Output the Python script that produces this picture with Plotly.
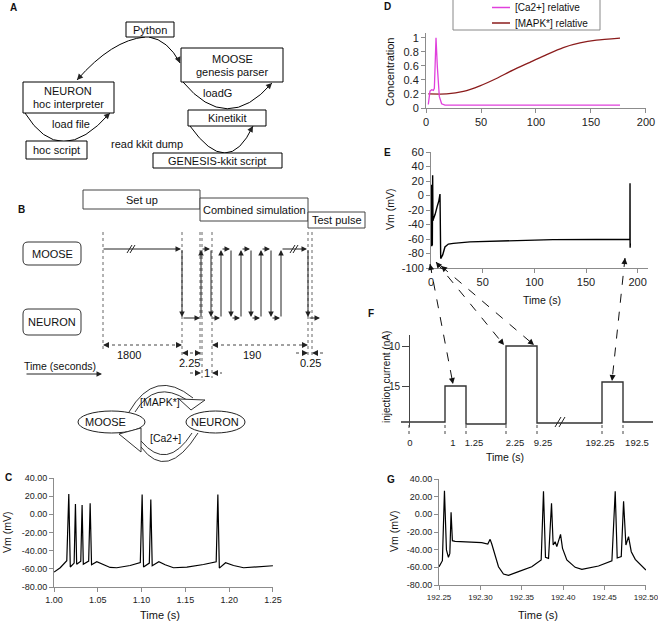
import plotly.graph_objects as go

W, H = 658, 622
FONT = "Liberation Sans, Arial, Helvetica, sans-serif"

# ---------------- data ----------------
# Panel C: Vm during first test pulse
c_time = [1.000, 1.007, 1.0145, 1.0168, 1.0185, 1.0229, 1.0244, 1.0258, 1.0305, 1.0320, 1.0334,
          1.0395, 1.0412, 1.0428, 1.0488, 1.0545, 1.0640, 1.0716, 1.0869, 1.0985, 1.1006, 1.1022,
          1.1088, 1.1105, 1.1121, 1.1197, 1.1269, 1.1364, 1.1517, 1.1707, 1.1852, 1.1871, 1.1888,
          1.1959, 1.2050, 1.2165, 1.2317, 1.2500]
c_vm = [-63.6, -58.8, -51.0, 22.4, -58.0, -53.7, 11.5, -55.0, -51.5, 10.4, -55.0,
        -51.5, 12.2, -55.5, -52.2, -54.4, -58.5, -58.8, -56.3, -53.0, 21.7, -58.0,
        -53.7, 16.2, -56.5, -52.2, -55.5, -58.8, -58.1, -55.2, -52.2, 21.7, -59.2,
        -53.3, -56.3, -58.8, -58.1, -56.6]
c_xticks = [1.00, 1.05, 1.10, 1.15, 1.20, 1.25]
vm_yticks = [-80, -60, -40, -20, 0, 20, 40]

# Panel G: Vm during final test pulse
g_time = [192.2500, 192.2540, 192.2565, 192.2589, 192.2613, 192.2630, 192.2645, 192.2661, 192.2694,
          192.2855, 192.3016, 192.3089, 192.3117, 192.3137, 192.3177, 192.3218, 192.3278, 192.3339,
          192.3460, 192.3620, 192.3734, 192.3762, 192.3786, 192.3823, 192.3859, 192.3879, 192.3903,
          192.3923, 192.3968, 192.3992, 192.4044, 192.4145, 192.4226, 192.4427, 192.4589, 192.4629,
          192.4653, 192.4702, 192.4730, 192.4758, 192.4790, 192.4823, 192.4871, 192.4952, 192.5000]
g_vm = [-59.3, -52.5, 26.8, -40.4, -48.7, -44.2, 2.3, -29.8, -30.6,
        -31.0, -32.1, -33.6, -28.3, -33.6, -47.9, -59.3, -67.6, -69.0,
        -64.9, -59.3, -51.7, 26.0, -48.7, -49.8, 12.4, -34.7, -31.0,
        -36.6, -22.6, -38.5, -51.7, -60.0, -62.3, -58.5, -52.5, 26.0,
        -49.4, -47.9, 14.7, -34.7, -25.3, -42.3, -51.0, -59.3, -63.0]
g_xticks = [192.25, 192.30, 192.35, 192.40, 192.45, 192.50]

# Panel D: relative concentrations
d_ca_time = [2.1, 3.6, 5.2, 6.7, 7.6, 9.1, 10.3, 12.1, 14.2, 17.3, 176.4]
d_ca_rel = [0.05, 0.24, 0.26, 0.25, 0.28, 1.00, 0.59, 0.165, 0.06, 0.04, 0.04]
d_mapk_time = [2.1, 18.8, 34.0, 49.0, 64.0, 79.0, 94.5, 109.7, 124.8, 140.0, 155.0, 176.4]
d_mapk_rel = [0.20, 0.20, 0.235, 0.315, 0.42, 0.54, 0.65, 0.76, 0.86, 0.925, 0.965, 0.995]
d_xticks = [0, 50, 100, 150, 200]
d_yticks = [0, 0.2, 0.4, 0.6, 0.8, 1]

# Panel E: Vm over the whole combined simulation
e_time = [0.3, 0.4, 0.5, 0.6, 0.7, 0.8, 0.9, 1.0, 1.3, 1.6, 1.9, 2.2, 4.0, 6.0, 7.5, 8.7, 9.0,
          9.4, 11.3, 13.5, 16.8, 21.6, 37.7, 70.0, 118.0, 160.0, 192.5, 192.6, 192.7, 192.8, 192.9]
e_vm = [-60, 14, -68, 15, -70, 12, -66, 14, -69, 28, -35, -33, -26, -15, -8, 2, -40,
        -87, -82, -71, -67, -66, -64, -62.5, -60.8, -60.6, -60.6, 17, -72, 10, -66]
e_xticks = [0, 50, 100, 150, 200]
e_yticks = [-100, -80, -60, -40, -20, 0, 20, 40, 60]

# Panel F: injection current protocol (schematic, broken time axis)
f_tick_labels = ["0", "1", "1.25", "2.25", "9.25", "192.25", "192.5"]
f_tick_pos = [9, 52, 73, 114, 142, 199, 236]
f_step_pos = [0, 44, 65, 105, 136, 201, 222, 252]
f_step_level = [0, 36, -2, 76, -1, 40, 0, 0]
f_edge_pos = [8, 44, 65, 105, 136, 201, 222]
f_ytick_labels = ["15", "10"]
f_ytick_pos = [36, 76]

# ---------------- figure ----------------
def dom_x(x0, x1):
    return [x0 / W, x1 / W]


def dom_y(top, bottom):
    return [1 - bottom / H, 1 - top / H]


fig = go.Figure()
fig.add_trace(go.Scatter(x=c_time, y=c_vm, mode="lines", line=dict(color="black", width=1.2),
                         xaxis="x", yaxis="y", showlegend=False))
fig.add_trace(go.Scatter(x=d_mapk_time, y=d_mapk_rel, mode="lines", name="[MAPK*] relative",
                         line=dict(color="#8b1c1c", width=1.3, shape="spline", smoothing=0.6),
                         xaxis="x2", yaxis="y2", showlegend=False))
fig.add_trace(go.Scatter(x=d_ca_time, y=d_ca_rel, mode="lines", name="[Ca2+] relative",
                         line=dict(color="#e040dc", width=1.3),
                         xaxis="x2", yaxis="y2", showlegend=False))
fig.add_trace(go.Scatter(x=e_time, y=e_vm, mode="lines", line=dict(color="black", width=1.4),
                         xaxis="x3", yaxis="y3", showlegend=False))
fig.add_trace(go.Scatter(x=f_step_pos, y=f_step_level, mode="lines",
                         line=dict(color="#333", width=1.4, shape="hv"),
                         xaxis="x4", yaxis="y4", showlegend=False))
fig.add_trace(go.Scatter(x=g_time, y=g_vm, mode="lines", line=dict(color="black", width=1.2),
                         xaxis="x5", yaxis="y5", showlegend=False))
fig.add_trace(go.Scatter(x=[None], y=[None], xaxis="x6", yaxis="y6", showlegend=False,
                         hoverinfo="skip"))

AX = dict(showline=True, linecolor="#8c8c8c", linewidth=1, ticks="outside", ticklen=4,
          tickcolor="#8c8c8c", showgrid=False, zeroline=False, fixedrange=True, automargin=False,
          ticklabeloverflow="allow",
          tickfont=dict(family=FONT, size=9, color="#222"))


def ax(**kw):
    d = dict(AX)
    d.update(kw)
    return d


vm_ytext = [f"{v:.2f}" for v in vm_yticks]

layout_axes = dict(
    xaxis=ax(domain=dom_x(54, 273), range=[0.9999, 1.2501], anchor="y",
             tickvals=c_xticks, ticktext=[f"{v:.2f}" for v in c_xticks]),
    yaxis=ax(domain=dom_y(478, 587), range=[-80, 40], anchor="x",
             tickvals=vm_yticks, ticktext=vm_ytext),
    xaxis2=ax(domain=dom_x(426, 646), range=[0, 200.01], anchor="y2",
              tickvals=d_xticks, ticktext=[str(v) for v in d_xticks],
              tickfont=dict(family=FONT, size=11, color="#222")),
    yaxis2=ax(domain=dom_y(33, 108), range=[0, 1.067], anchor="x2",
              tickvals=d_yticks, ticktext=[f"{v:g}" for v in d_yticks],
              tickfont=dict(family=FONT, size=11, color="#222")),
    xaxis3=ax(domain=dom_x(431, 648), range=[0, 210], anchor="y3",
              tickvals=e_xticks, ticktext=[str(v) for v in e_xticks],
              tickfont=dict(family=FONT, size=11, color="#222")),
    yaxis3=ax(domain=dom_y(152, 268), range=[-100, 60], anchor="x3",
              tickvals=e_yticks, ticktext=[str(v) for v in e_yticks],
              tickfont=dict(family=FONT, size=11, color="#222")),
    xaxis4=ax(domain=dom_x(401, 655), range=[0, 254], anchor="y4", showline=False,
              tickvals=f_tick_pos, ticktext=f_tick_labels, ticklen=7,
              tickcolor="rgba(0,0,0,0)", tickfont=dict(family=FONT, size=9.5, color="#222")),
    yaxis4=ax(domain=dom_y(335, 427), range=[-5, 87], anchor="free", position=409 / W,
              linecolor="#444", tickcolor="#444", ticklen=7,
              tickvals=f_ytick_pos, ticktext=f_ytick_labels,
              tickfont=dict(family=FONT, size=10, color="#222")),
    xaxis5=ax(domain=dom_x(439, 646), range=[192.2499, 192.5001], anchor="y5",
              tickvals=g_xticks, ticktext=[f"{v:.2f}" for v in g_xticks],
              tickfont=dict(family=FONT, size=8, color="#222")),
    yaxis5=ax(domain=dom_y(479, 585), range=[-80, 40], anchor="x5",
              tickvals=vm_yticks, ticktext=vm_ytext),
    xaxis6=dict(domain=[0, 1], range=[0, W], visible=False, anchor="y6", fixedrange=True,
                automargin=False),
    yaxis6=dict(domain=[0, 1], range=[H, 0], visible=False, anchor="x6", fixedrange=True,
                automargin=False),
)

# ---------------- diagram helpers (overlay axis in pixel units) ----------------
shapes = []
annos = []


def line(x0, y0, x1, y1, color="black", width=1, dash=None, xref="x6"):
    shapes.append(dict(type="line", xref=xref, yref="y6", x0=x0, y0=y0, x1=x1, y1=y1,
                       line=dict(color=color, width=width, dash=dash)))


def rect(x0, y0, x1, y1, color="black", width=1):
    shapes.append(dict(type="rect", xref="x6", yref="y6", x0=x0, y0=y0, x1=x1, y1=y1,
                       line=dict(color=color, width=width), fillcolor="white"))


def path(d, color="black", width=1, fill=None, dash=None):
    shapes.append(dict(type="path", xref="x6", yref="y6", path=d,
                       line=dict(color=color, width=width, dash=dash),
                       fillcolor=fill if fill else "rgba(0,0,0,0)"))


def rrect(x0, y0, x1, y1, r=5):
    d = (f"M {x0 + r},{y0} L {x1 - r},{y0} Q {x1},{y0} {x1},{y0 + r} L {x1},{y1 - r} "
         f"Q {x1},{y1} {x1 - r},{y1} L {x0 + r},{y1} Q {x0},{y1} {x0},{y1 - r} "
         f"L {x0},{y0 + r} Q {x0},{y0} {x0 + r},{y0} Z")
    path(d, color="#333", fill="white")


def text(x, y, s, size=11, xanchor="center", angle=0, bold=False, color="#111"):
    annos.append(dict(x=x, y=y, xref="x6", yref="y6", text=f"<b>{s}</b>" if bold else s,
                      showarrow=False, xanchor=xanchor, yanchor="middle", textangle=angle,
                      font=dict(family=FONT, size=size, color=color)))


def arrow(x0, y0, x1, y1, color="#222", width=1, size=1.1):
    annos.append(dict(x=x1, y=y1, ax=x0, ay=y0, xref="x6", yref="y6", axref="x6", ayref="y6",
                      text="", showarrow=True, arrowhead=2, arrowsize=size, arrowwidth=width,
                      arrowcolor=color, standoff=0))


def head(x1, y1, fx, fy, color="#222", size=1.2):
    # arrowhead at (x1,y1) pointing away from (fx,fy)
    dx, dy = x1 - fx, y1 - fy
    n = (dx * dx + dy * dy) ** 0.5
    arrow(x1 - 4 * dx / n, y1 - 4 * dy / n, x1, y1, color=color, size=size)


# ---------------- Panel A ----------------
text(13, 7, "A", size=10, bold=True)
path("M 145,37 Q 112,40 77,80")
head(77, 80, 86, 70)
path("M 149,37 Q 168,40 180,63")
head(180, 63, 177, 56)
path("M 25,113 Q 60,170 110,113")
head(110, 113, 104, 119)
path("M 183,82 Q 227,135 272,83")
head(272, 83, 266, 89)
path("M 190,126 Q 228,180 253,126")
head(253, 126, 249, 133)
rect(126, 22, 174, 37)
rect(181, 48, 283, 82)
rect(23, 82, 114, 113)
rect(26, 141, 87, 159)
rect(188, 110, 266, 126)
rect(153, 153, 282, 168)
text(150, 29.5, "Python")
text(232, 59, "MOOSE")
text(232, 72, "genesis parser")
text(68, 91, "NEURON")
text(68, 104, "hoc interpreter")
text(56, 150, "hoc script")
text(227, 118, "Kinetikit")
text(217, 161, "GENESIS-kkit script")
text(71, 124, "load file")
text(217, 93, "loadG")
text(147, 144, "read kkit dump")

# ---------------- Panel B ----------------
text(21, 209, "B", size=10, bold=True)
rect(83, 190, 200, 209, color="#444")
rect(200, 198, 308, 221, color="#444")
rect(308, 212, 365, 228, color="#444")
text(142, 200, "Set up")
text(254, 210, "Combined simulation")
text(337, 220, "Test pulse")
rrect(23, 242, 81, 265)
rrect(23, 309, 81, 335)
text(52, 253.5, "MOOSE")
text(52, 322, "NEURON")

# dotted guides
for gx, gy1 in [(103, 352), (182, 360), (200, 362), (202, 378), (212, 378), (308, 358), (312, 358)]:
    line(gx, 232, gx, gy1, color="#666", dash="dot")

ym, yn = 249, 318
arrow(102, ym, 181, ym)
arrow(182, ym, 182, yn - 1)
arrow(182, yn, 200, yn)
arrow(201, yn, 201, ym + 1)
for u in [201, 221, 241, 261]:
    arrow(u, ym, u + 9, ym)
    arrow(u + 10, ym, u + 10, yn - 1)
    arrow(u + 10, yn, u + 19, yn)
    arrow(u + 20, yn, u + 20, ym + 1)
arrow(281, ym, 307, ym)
arrow(308, ym, 308, yn - 1)
arrow(308, yn, 320, yn)
for bx in (130, 293):
    line(bx - 3, ym + 4, bx + 2, ym - 4, color="#222")
    line(bx, ym + 4, bx + 5, ym - 4, color="#222")

# dimension arrows
line(106, 345, 179, 345, color="#444", dash="dot")
head(103, 345, 110, 345)
head(182, 345, 175, 345)
text(129, 355, "1800")
line(184, 353, 199, 353, color="#444", dash="dot")
head(182, 353, 188, 353)
head(201, 353, 195, 353)
text(189, 363, "2.25")
line(190, 373, 199, 373, color="#444", dash="dot")
head(201, 373, 195, 373)
line(214, 373, 222, 373, color="#444", dash="dot")
head(212, 373, 218, 373)
text(206.5, 373, "1")
line(215, 345, 305, 345, color="#444", dash="dot")
head(212, 345, 219, 345)
head(308, 345, 301, 345)
text(252, 355, "190")
line(296, 353, 306, 353, color="#444", dash="dot")
head(308, 353, 302, 353)
line(314, 353, 323, 353, color="#444", dash="dot")
head(312, 353, 318, 353)
text(310, 363, "0.25")
text(60, 366, "Time (seconds)", size=10.5)
arrow(25, 374, 102, 374)

# MOOSE <-> NEURON cycle
shapes.append(dict(type="circle", xref="x6", yref="y6", x0=78, y0=411, x1=145, y1=433,
                   line=dict(color="#222", width=1), fillcolor="white"))
shapes.append(dict(type="circle", xref="x6", yref="y6", x0=186, y0=411, x1=245, y1=433,
                   line=dict(color="#222", width=1), fillcolor="white"))
path("M 129,412 Q 155,367 193,398", color="#333")
path("M 135,412 Q 155,379 187,400", color="#333")
path("M 179,399 L 205,400 L 191,410 Z", color="#333", fill="white")
path("M 198,433 Q 167,482 141,447", color="#333")
path("M 192,433 Q 167,472 141,441", color="#333")
path("M 141,428 L 141,452 L 119,434 Z", color="#333", fill="white")
text(105, 422, "MOOSE")
text(215, 422, "NEURON")
text(160, 402, "[MAPK*]", size=10.5)
text(165, 438, "[Ca2+]", size=10.5)

# ---------------- Panel C / G labels ----------------
text(8, 477, "C", size=10, bold=True)
text(7, 533, "Vm (mV)", size=10.5, angle=-90)
text(160, 615, "Time (s)", size=11)
text(391, 479, "G", size=10, bold=True)
text(394, 532, "Vm (mV)", size=10.5, angle=-90)
text(538, 615, "Time (s)", size=11)

# ---------------- Panel D ----------------
text(387, 6, "D", size=10, bold=True)
text(390, 72, "Concentration", size=11, angle=-90)
rect(453, -1, 600, 30, color="#888")
line(492, 7.5, 510, 7.5, color="#e040dc", width=1.5)
line(492, 23, 510, 23, color="#8b1c1c", width=1.5)
text(513, 7.5, "[Ca2+] relative", size=10, xanchor="left")
text(513, 23, "[MAPK*] relative", size=10, xanchor="left")

# ---------------- Panel E ----------------
text(387, 152, "E", size=10, bold=True)
text(390, 210, "Vm (mV)", size=10.5, angle=-90)
text(542, 300, "Time (s)", size=10.5)

# ---------------- Panel F ----------------
text(371, 313, "F", size=10, bold=True)
text(386, 377, "injection current (nA)", size=10, angle=-90)
text(505, 457, "Time (s)", size=10.5)
for ep in f_edge_pos:
    shapes.append(dict(type="line", xref="x4", yref="y6", x0=ep, x1=ep, y0=425, y1=435,
                       line=dict(color="#444", width=1, dash="dot")))
line(555, 427, 561, 417, color="#222")
line(559, 427, 565, 417, color="#222")

# dashed linking arrows E -> F
for (x0, y0, x1, y1) in [(430, 264, 453, 384), (436, 262, 504, 345),
                         (441, 266, 534, 345), (625, 258, 612, 381)]:
    line(x0, y0, x1, y1, color="#111", dash="dash")
    head(x1, y1, x0, y0, color="#111")
    head(x0, y0, x1, y1, color="#111")

fig.update_layout(
    template="none",
    width=W, height=H, margin=dict(l=0, r=0, t=0, b=0, pad=0), autosize=False,
    paper_bgcolor="white", plot_bgcolor="rgba(0,0,0,0)",
    font=dict(family=FONT, size=11, color="#111"),
    shapes=shapes, annotations=annos, showlegend=False, hovermode=False,
    **layout_axes,
)

fig.write_html("out.html", config={"displayModeBar": False, "staticPlot": True},
               post_script="document.body.style.margin='0';document.body.style.padding='0';")
